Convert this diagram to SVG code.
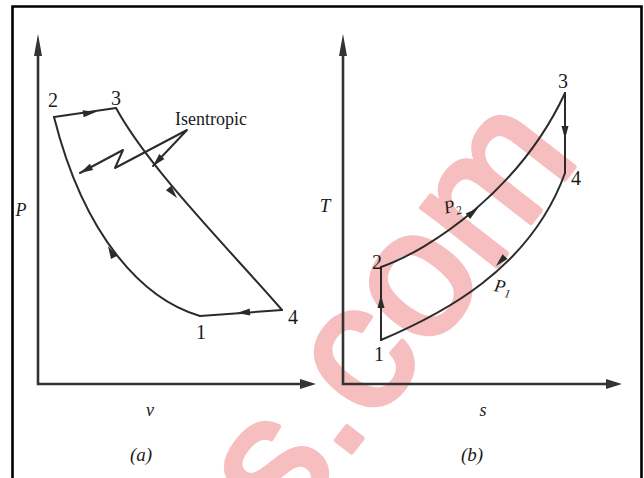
<svg xmlns="http://www.w3.org/2000/svg" xmlns:xlink="http://www.w3.org/1999/xlink" width="644" height="478" viewBox="0 0 644 478">
  <style>
    .ln { fill: none; stroke: #2b2b2b; stroke-width: 2; stroke-linejoin: round; stroke-linecap: round; }
    .ax { fill: none; stroke: #333; stroke-width: 2.6; }
    .ah { fill: #2b2b2b; }
    .num { font-family: "Liberation Serif", "DejaVu Serif", serif; font-size: 20px; fill: #1a1a1a; text-anchor: middle; }
    .it { font-family: "Liberation Serif", "DejaVu Serif", serif; font-style: italic; fill: #1a1a1a; text-anchor: middle; }
    .wm { font-family: "Liberation Sans", Arial, sans-serif; font-size: 180px; fill: #f6bebe; stroke: #f6bebe; stroke-width: 5; stroke-linejoin: round; }
  </style>
  <defs>
    <path id="ah" d="M0,0 L-13,-3.5 L-13,3.5 Z"/>
    <path id="axv" d="M0,0 L-4,22 L4,22 Z"/>
    <path id="axh" d="M0,0 L-16,-5 L-16,5 Z"/>
  </defs>
  <rect width="644" height="478" fill="#fff"/>
  <g id="watermark">
    <text class="wm" x="286" y="536" transform="rotate(-52 286 536)">s.com</text>
  </g>
  <g id="frame">
    <path d="M12.5,480 V6.5 H641.5 V480" fill="none" stroke="#000" stroke-width="2.6"/>
  </g>
  <g id="axes-a">
    <path class="ax" d="M38,50 V384 H302"/>
    <use href="#axv" x="38" y="34" fill="#333"/>
    <use href="#axh" x="316" y="384" fill="#333"/>
    <text class="it" x="21" y="216" font-size="18">P</text>
    <text class="it" x="150" y="416" font-size="18">v</text>
    <text class="it" x="141" y="461" font-size="19">(a)</text>
  </g>
  <g id="axes-b">
    <path class="ax" d="M343,50 V384 H607"/>
    <use href="#axv" x="343" y="34" fill="#333"/>
    <use href="#axh" x="622" y="384" fill="#333"/>
    <text class="it" x="325" y="212" font-size="19">T</text>
    <text class="it" x="483" y="416" font-size="18">s</text>
    <text class="it" x="472" y="461" font-size="19">(b)</text>
  </g>
  <g id="connectors">
    <path class="ln" d="M54,117 L116,108"/>
    <path class="ln" d="M116,108 C150,170 230,250 282,310"/>
    <path class="ln" d="M282,310 L200,316"/>
    <path class="ln" d="M200,316 C145,300 85,240 54,117"/>
    <path class="ln" d="M80,173 L123,150 L115,168 L187,130 L153,166"/>
    <path class="ln" d="M381,340 V267"/>
    <path class="ln" d="M381,267 C430,250 520,190 565,93"/>
    <path class="ln" d="M565,93 V173"/>
    <path class="ln" d="M565,173 C530,270 440,315 381,340"/>
    <use class="ah" href="#ah" transform="translate(96,112) rotate(-8)"/>
    <use class="ah" href="#ah" transform="translate(177,198) rotate(50)"/>
    <use class="ah" href="#ah" transform="translate(237,313) rotate(176)"/>
    <use class="ah" href="#ah" transform="translate(108,246) rotate(-118)"/>
    <use class="ah" href="#ah" transform="translate(80,173) rotate(152)"/>
    <use class="ah" href="#ah" transform="translate(153,166) rotate(133)"/>
    <use class="ah" href="#ah" transform="translate(381,295) rotate(-90)"/>
    <use class="ah" href="#ah" transform="translate(565,139) rotate(90)"/>
    <use class="ah" href="#ah" transform="translate(478,208) rotate(-39)"/>
    <use class="ah" href="#ah" transform="translate(496,266) rotate(134)"/>
  </g>
  <g id="labels-a">
    <text class="num" x="53" y="107">2</text>
    <text class="num" x="116" y="105">3</text>
    <text class="num" x="293" y="324">4</text>
    <text class="num" x="201" y="339">1</text>
    <text x="211" y="125" font-family="Liberation Serif, serif" font-size="18" text-anchor="middle" fill="#1a1a1a">Isentropic</text>
  </g>
  <g id="labels-b">
    <text class="num" x="563" y="88">3</text>
    <text class="num" x="576" y="185">4</text>
    <text class="num" x="377" y="269">2</text>
    <text class="num" x="379" y="361">1</text>
    <text class="it" x="452" y="211" font-size="18" transform="rotate(-15 455 205)">P<tspan font-size="12" dy="4">2</tspan></text>
    <text class="it" x="503" y="293" font-size="18" transform="rotate(10 505 287)">P<tspan font-size="12" dy="4">1</tspan></text>
  </g>
</svg>
